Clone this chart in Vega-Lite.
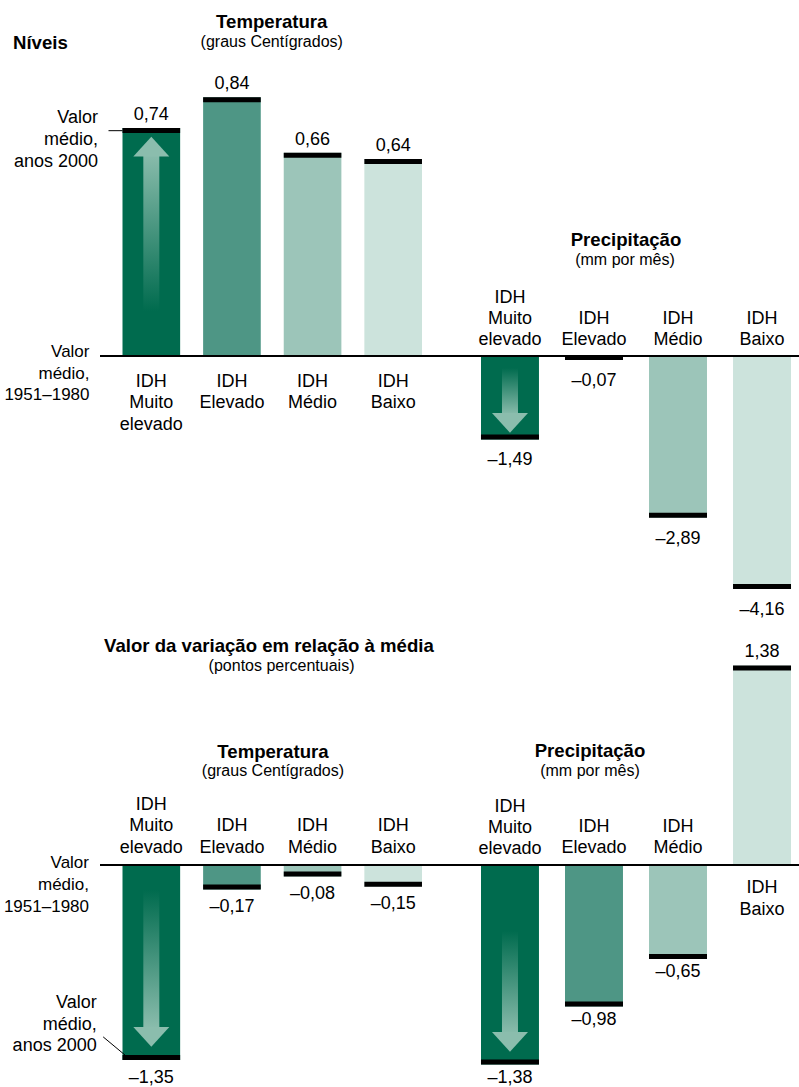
{
  "$schema": "https://vega.github.io/schema/vega-lite/v6.json",
  "width": 799,
  "height": 1087,
  "autosize": {"type": "none"},
  "padding": 0,
  "background": "white",
  "config": {
    "view": {"stroke": null},
    "font": "Liberation Sans",
    "locale": {"number": {"decimal": ",", "thousands": ".", "grouping": [3], "currency": ["", ""], "minus": "–"}}
  },
  "datasets": {
    "niveis_temperatura": [
      {"idh": "IDH Muito elevado", "valor": 0.74},
      {"idh": "IDH Elevado", "valor": 0.84},
      {"idh": "IDH Médio", "valor": 0.66},
      {"idh": "IDH Baixo", "valor": 0.64}
    ],
    "niveis_precipitacao": [
      {"idh": "IDH Muito elevado", "valor": -1.49},
      {"idh": "IDH Elevado", "valor": -0.07},
      {"idh": "IDH Médio", "valor": -2.89},
      {"idh": "IDH Baixo", "valor": -4.16}
    ],
    "variacao_temperatura": [
      {"idh": "IDH Muito elevado", "valor": -1.35},
      {"idh": "IDH Elevado", "valor": -0.17},
      {"idh": "IDH Médio", "valor": -0.08},
      {"idh": "IDH Baixo", "valor": -0.15}
    ],
    "variacao_precipitacao": [
      {"idh": "IDH Muito elevado", "valor": -1.38},
      {"idh": "IDH Elevado", "valor": -0.98},
      {"idh": "IDH Médio", "valor": -0.65},
      {"idh": "IDH Baixo", "valor": 1.38}
    ]
  },
  "resolve": {"scale": {"x": "independent", "y": "independent"}},
  "layer": [
    {
      "data": {"name": "niveis_temperatura"},
      "encoding": {
        "x": {"field": "idh", "type": "nominal", "axis": null, "scale": {"domain": ["IDH Muito elevado", "IDH Elevado", "IDH Médio", "IDH Baixo"], "range": [122.5, 422], "paddingInner": 0.285, "paddingOuter": 0}},
        "y": {"field": "valor", "type": "quantitative", "axis": null, "scale": {"domain": [-2.37338, 1.15584], "nice": false, "zero": false}}
      },
      "layer": [
        {"mark": {"type": "bar"}, "encoding": {"y2": {"datum": 0}, "color": {"field": "idh", "type": "nominal", "legend": null, "scale": {"domain": ["IDH Muito elevado", "IDH Elevado", "IDH Médio", "IDH Baixo"], "range": ["#006b4e", "#4e9685", "#9cc5b9", "#cce3dc"]}}}},
        {"transform": [{"filter": "datum.idh === 'IDH Muito elevado'"}], "mark": {"type": "bar", "width": 16, "yOffset": 24, "y2Offset": -45, "color": {"gradient": "linear", "x1": 0, "y1": 0, "x2": 0, "y2": 1, "stops": [{"offset": 0, "color": "#8bbdad"}, {"offset": 1, "color": "#006b4e"}]}}, "encoding": {"y2": {"datum": 0}}},
        {"transform": [{"filter": "datum.idh === 'IDH Muito elevado'"}], "mark": {"type": "point", "shape": "M0,0L1,1.1L-1,1.1Z", "size": 1296, "filled": true, "color": "#8bbdad", "opacity": 1, "strokeWidth": 0, "yOffset": 8.6}},
        {"mark": {"type": "tick", "color": "black", "thickness": 5, "size": 57.6, "opacity": 1, "yOffset": 2.5}},
        {"mark": {"type": "text", "fontSize": 18, "dy": -8, "align": "center", "baseline": "alphabetic"}, "encoding": {"text": {"field": "valor", "type": "quantitative", "format": ".2f"}}},
        {"mark": {"type": "text", "fontSize": 18, "lineBreak": " ", "lineHeight": 21.7, "dy": 30.7, "align": "center", "baseline": "alphabetic"}, "encoding": {"y": {"datum": 0}, "text": {"field": "idh", "type": "nominal"}}},
        {"transform": [{"filter": "datum.idh === 'IDH Muito elevado'"}], "mark": {"type": "text", "text": ["Valor", "médio,", "anos 2000"], "fontSize": 18, "lineHeight": 21.7, "align": "right", "baseline": "alphabetic", "dx": -24.5, "dy": -4.8}, "encoding": {"x": {"field": "idh", "type": "nominal", "bandPosition": 0}}},
        {"transform": [{"filter": "datum.idh === 'IDH Muito elevado'"}], "mark": {"type": "point", "shape": "M0,0L-1,0", "size": 784, "filled": false, "stroke": "black", "strokeWidth": 1, "opacity": 1, "yOffset": 2.6}, "encoding": {"x": {"field": "idh", "type": "nominal", "bandPosition": 0}}},
        {"transform": [{"filter": "datum.idh === 'IDH Muito elevado'"}], "mark": {"type": "text", "text": ["Valor", "médio,", "1951–1980"], "fontSize": 17, "lineHeight": 21.7, "align": "right", "baseline": "alphabetic", "dx": -33, "dy": 1}, "encoding": {"x": {"field": "idh", "type": "nominal", "bandPosition": 0}, "y": {"datum": 0}}},
        {"transform": [{"filter": "datum.idh === 'IDH Muito elevado'"}], "mark": {"type": "text", "text": "Níveis", "fontSize": 18.6, "fontWeight": "bold", "align": "left", "baseline": "alphabetic", "dx": -138.3}, "encoding": {"x": {"datum": "IDH Muito elevado"}, "y": {"datum": 0.997}}},
        {"transform": [{"filter": "datum.idh === 'IDH Muito elevado'"}], "mark": {"type": "text", "text": "Temperatura", "fontSize": 18.6, "fontWeight": "bold", "align": "center", "baseline": "alphabetic", "dx": 39.8}, "encoding": {"x": {"datum": "IDH Elevado"}, "y": {"datum": 1.064}}},
        {"transform": [{"filter": "datum.idh === 'IDH Muito elevado'"}], "mark": {"type": "text", "text": "(graus Centígrados)", "fontSize": 16, "align": "center", "baseline": "alphabetic", "dx": 39.8}, "encoding": {"x": {"datum": "IDH Elevado"}, "y": {"datum": 1.004}}},
        {"transform": [{"filter": "datum.idh === 'IDH Muito elevado'"}], "mark": {"type": "rule", "color": "black", "strokeWidth": 2, "xOffset": -22.5, "x2Offset": 40}, "encoding": {"x": {"datum": "IDH Muito elevado", "bandPosition": 0}, "x2": {"datum": "IDH Baixo", "bandPosition": 1}, "y": {"datum": 0}}}
      ]
    },
    {
      "data": {"name": "niveis_precipitacao"},
      "encoding": {
        "x": {"field": "idh", "type": "nominal", "axis": null, "scale": {"domain": ["IDH Muito elevado", "IDH Elevado", "IDH Médio", "IDH Baixo"], "range": [481, 791], "paddingInner": 0.31, "paddingOuter": 0}},
        "y": {"field": "valor", "type": "quantitative", "axis": null, "scale": {"domain": [-13.05357, 6.35714], "nice": false, "zero": false}}
      },
      "layer": [
        {"mark": {"type": "bar"}, "encoding": {"y2": {"datum": 0}, "color": {"field": "idh", "type": "nominal", "legend": null, "scale": {"domain": ["IDH Muito elevado", "IDH Elevado", "IDH Médio", "IDH Baixo"], "range": ["#006b4e", "#4e9685", "#9cc5b9", "#cce3dc"]}}}},
        {"transform": [{"filter": "datum.idh === 'IDH Muito elevado'"}], "mark": {"type": "bar", "width": 16, "yOffset": -24, "y2Offset": 12, "color": {"gradient": "linear", "x1": 0, "y1": 0, "x2": 0, "y2": 1, "stops": [{"offset": 0, "color": "#006b4e"}, {"offset": 1, "color": "#8bbdad"}]}}, "encoding": {"y2": {"datum": 0}}},
        {"transform": [{"filter": "datum.idh === 'IDH Muito elevado'"}], "mark": {"type": "point", "shape": "M0,0L1,-1.1L-1,-1.1Z", "size": 1296, "filled": true, "color": "#8bbdad", "opacity": 1, "strokeWidth": 0, "yOffset": -6.7}},
        {"mark": {"type": "tick", "color": "black", "thickness": 5, "size": 58, "opacity": 1, "yOffset": -2.5}},
        {"mark": {"type": "text", "fontSize": 18, "dy": 26, "align": "center", "baseline": "alphabetic"}, "encoding": {"text": {"field": "valor", "type": "quantitative", "format": ".2f"}}},
        {"transform": [{"filter": "datum.idh === 'IDH Muito elevado'"}], "mark": {"type": "text", "fontSize": 18, "lineBreak": " ", "lineHeight": 21.3, "dy": -53.3, "align": "center", "baseline": "alphabetic"}, "encoding": {"y": {"datum": 0}, "text": {"field": "idh", "type": "nominal"}}},
        {"transform": [{"filter": "datum.idh !== 'IDH Muito elevado'"}], "mark": {"type": "text", "fontSize": 18, "lineBreak": " ", "lineHeight": 21.3, "dy": -32, "align": "center", "baseline": "alphabetic"}, "encoding": {"y": {"datum": 0}, "text": {"field": "idh", "type": "nominal"}}},
        {"transform": [{"filter": "datum.idh === 'IDH Muito elevado'"}], "mark": {"type": "text", "text": "Precipitação", "fontSize": 18.6, "fontWeight": "bold", "align": "center", "baseline": "alphabetic", "dx": 32}, "encoding": {"x": {"datum": "IDH Elevado"}, "y": {"datum": 1.964}}},
        {"transform": [{"filter": "datum.idh === 'IDH Muito elevado'"}], "mark": {"type": "text", "text": "(mm por mês)", "fontSize": 16, "align": "center", "baseline": "alphabetic", "dx": 31}, "encoding": {"x": {"datum": "IDH Elevado"}, "y": {"datum": 1.625}}},
        {"transform": [{"filter": "datum.idh === 'IDH Muito elevado'"}], "mark": {"type": "rule", "color": "black", "strokeWidth": 2, "xOffset": -40, "x2Offset": 8}, "encoding": {"x": {"datum": "IDH Muito elevado", "bandPosition": 0}, "x2": {"datum": "IDH Baixo", "bandPosition": 1}, "y": {"datum": 0}}}
      ]
    },
    {
      "data": {"name": "variacao_temperatura"},
      "encoding": {
        "x": {"field": "idh", "type": "nominal", "axis": null, "scale": {"domain": ["IDH Muito elevado", "IDH Elevado", "IDH Médio", "IDH Baixo"], "range": [122.5, 422], "paddingInner": 0.285, "paddingOuter": 0}},
        "y": {"field": "valor", "type": "quantitative", "axis": null, "scale": {"domain": [-1.53633, 5.98616], "nice": false, "zero": false}}
      },
      "layer": [
        {"mark": {"type": "bar"}, "encoding": {"y2": {"datum": 0}, "color": {"field": "idh", "type": "nominal", "legend": null, "scale": {"domain": ["IDH Muito elevado", "IDH Elevado", "IDH Médio", "IDH Baixo"], "range": ["#006b4e", "#4e9685", "#9cc5b9", "#cce3dc"]}}}},
        {"transform": [{"filter": "datum.idh === 'IDH Muito elevado'"}], "mark": {"type": "bar", "width": 16, "yOffset": -31, "y2Offset": 25, "color": {"gradient": "linear", "x1": 0, "y1": 0, "x2": 0, "y2": 1, "stops": [{"offset": 0, "color": "#006b4e"}, {"offset": 1, "color": "#8bbdad"}]}}, "encoding": {"y2": {"datum": 0}}},
        {"transform": [{"filter": "datum.idh === 'IDH Muito elevado'"}], "mark": {"type": "point", "shape": "M0,0L1,-1.1L-1,-1.1Z", "size": 1296, "filled": true, "color": "#8bbdad", "opacity": 1, "strokeWidth": 0, "yOffset": -13.4}},
        {"mark": {"type": "tick", "color": "black", "thickness": 5, "size": 57.6, "opacity": 1, "yOffset": -2.5}},
        {"mark": {"type": "text", "fontSize": 18, "dy": 22.5, "align": "center", "baseline": "alphabetic"}, "encoding": {"text": {"field": "valor", "type": "quantitative", "format": ".2f"}}},
        {"transform": [{"filter": "datum.idh === 'IDH Muito elevado'"}], "mark": {"type": "text", "fontSize": 18, "lineBreak": " ", "lineHeight": 21.3, "dy": -55, "align": "center", "baseline": "alphabetic"}, "encoding": {"y": {"datum": 0}, "text": {"field": "idh", "type": "nominal"}}},
        {"transform": [{"filter": "datum.idh !== 'IDH Muito elevado'"}], "mark": {"type": "text", "fontSize": 18, "lineBreak": " ", "lineHeight": 21.3, "dy": -33.7, "align": "center", "baseline": "alphabetic"}, "encoding": {"y": {"datum": 0}, "text": {"field": "idh", "type": "nominal"}}},
        {"transform": [{"filter": "datum.idh === 'IDH Muito elevado'"}], "mark": {"type": "text", "text": ["Valor", "médio,", "anos 2000"], "fontSize": 18, "lineHeight": 21.7, "align": "right", "baseline": "alphabetic", "dx": -25.8, "dy": -52.1}, "encoding": {"x": {"field": "idh", "type": "nominal", "bandPosition": 0}}},
        {"transform": [{"filter": "datum.idh === 'IDH Muito elevado'"}], "mark": {"type": "point", "shape": "M0,0L-1.2,-1", "size": 1325, "filled": false, "stroke": "black", "strokeWidth": 1, "opacity": 1, "xOffset": 2.5, "yOffset": -5}, "encoding": {"x": {"field": "idh", "type": "nominal", "bandPosition": 0}}},
        {"transform": [{"filter": "datum.idh === 'IDH Muito elevado'"}], "mark": {"type": "text", "text": ["Valor", "médio,", "1951–1980"], "fontSize": 17, "lineHeight": 21.7, "align": "right", "baseline": "alphabetic", "dx": -33.5, "dy": 3.3}, "encoding": {"x": {"field": "idh", "type": "nominal", "bandPosition": 0}, "y": {"datum": 0}}},
        {"transform": [{"filter": "datum.idh === 'IDH Muito elevado'"}], "mark": {"type": "text", "text": "Valor da variação em relação à média", "fontSize": 18.6, "fontWeight": "bold", "align": "center", "baseline": "alphabetic", "dx": 37}, "encoding": {"x": {"datum": "IDH Elevado"}, "y": {"datum": 1.476}}},
        {"transform": [{"filter": "datum.idh === 'IDH Muito elevado'"}], "mark": {"type": "text", "text": "(pontos percentuais)", "fontSize": 16, "align": "center", "baseline": "alphabetic", "dx": 49.6}, "encoding": {"x": {"datum": "IDH Elevado"}, "y": {"datum": 1.343}}},
        {"transform": [{"filter": "datum.idh === 'IDH Muito elevado'"}], "mark": {"type": "text", "text": "Temperatura", "fontSize": 18.6, "fontWeight": "bold", "align": "center", "baseline": "alphabetic", "dx": 41}, "encoding": {"x": {"datum": "IDH Elevado"}, "y": {"datum": 0.738}}},
        {"transform": [{"filter": "datum.idh === 'IDH Muito elevado'"}], "mark": {"type": "text", "text": "(graus Centígrados)", "fontSize": 16, "align": "center", "baseline": "alphabetic", "dx": 41}, "encoding": {"x": {"datum": "IDH Elevado"}, "y": {"datum": 0.618}}},
        {"transform": [{"filter": "datum.idh === 'IDH Muito elevado'"}], "mark": {"type": "rule", "color": "black", "strokeWidth": 2, "xOffset": -22.5, "x2Offset": 40}, "encoding": {"x": {"datum": "IDH Muito elevado", "bandPosition": 0}, "x2": {"datum": "IDH Baixo", "bandPosition": 1}, "y": {"datum": 0}}}
      ]
    },
    {
      "data": {"name": "variacao_precipitacao"},
      "encoding": {
        "x": {"field": "idh", "type": "nominal", "axis": null, "scale": {"domain": ["IDH Muito elevado", "IDH Elevado", "IDH Médio", "IDH Baixo"], "range": [481, 791], "paddingInner": 0.31, "paddingOuter": 0}},
        "y": {"field": "valor", "type": "quantitative", "axis": null, "scale": {"domain": [-1.53633, 5.98616], "nice": false, "zero": false}}
      },
      "layer": [
        {"mark": {"type": "bar"}, "encoding": {"y2": {"datum": 0}, "color": {"field": "idh", "type": "nominal", "legend": null, "scale": {"domain": ["IDH Muito elevado", "IDH Elevado", "IDH Médio", "IDH Baixo"], "range": ["#006b4e", "#4e9685", "#9cc5b9", "#cce3dc"]}}}},
        {"transform": [{"filter": "datum.idh === 'IDH Muito elevado'"}], "mark": {"type": "bar", "width": 16, "yOffset": -30, "y2Offset": 66, "color": {"gradient": "linear", "x1": 0, "y1": 0, "x2": 0, "y2": 1, "stops": [{"offset": 0, "color": "#006b4e"}, {"offset": 1, "color": "#8bbdad"}]}}, "encoding": {"y2": {"datum": 0}}},
        {"transform": [{"filter": "datum.idh === 'IDH Muito elevado'"}], "mark": {"type": "point", "shape": "M0,0L1,-1.1L-1,-1.1Z", "size": 1296, "filled": true, "color": "#8bbdad", "opacity": 1, "strokeWidth": 0, "yOffset": -12.7}},
        {"transform": [{"filter": "datum.valor < 0"}], "mark": {"type": "tick", "color": "black", "thickness": 5, "size": 58, "opacity": 1, "yOffset": -2.5}},
        {"transform": [{"filter": "datum.valor > 0"}], "mark": {"type": "tick", "color": "black", "thickness": 5, "size": 58, "opacity": 1, "yOffset": 2.5}},
        {"transform": [{"filter": "datum.valor < 0"}], "mark": {"type": "text", "fontSize": 18, "dy": 18.5, "align": "center", "baseline": "alphabetic"}, "encoding": {"text": {"field": "valor", "type": "quantitative", "format": ".2f"}}},
        {"transform": [{"filter": "datum.valor > 0"}], "mark": {"type": "text", "fontSize": 18, "dy": -9, "align": "center", "baseline": "alphabetic"}, "encoding": {"text": {"field": "valor", "type": "quantitative", "format": ".2f"}}},
        {"transform": [{"filter": "datum.valor < 0 && datum.idh === 'IDH Muito elevado'"}], "mark": {"type": "text", "fontSize": 18, "lineBreak": " ", "lineHeight": 21.3, "dy": -53.5, "align": "center", "baseline": "alphabetic"}, "encoding": {"y": {"datum": 0}, "text": {"field": "idh", "type": "nominal"}}},
        {"transform": [{"filter": "datum.valor < 0 && datum.idh !== 'IDH Muito elevado'"}], "mark": {"type": "text", "fontSize": 18, "lineBreak": " ", "lineHeight": 21.3, "dy": -33.3, "align": "center", "baseline": "alphabetic"}, "encoding": {"y": {"datum": 0}, "text": {"field": "idh", "type": "nominal"}}},
        {"transform": [{"filter": "datum.valor > 0"}], "mark": {"type": "text", "fontSize": 18, "lineBreak": " ", "lineHeight": 21.5, "dy": 28.3, "align": "center", "baseline": "alphabetic"}, "encoding": {"y": {"datum": 0}, "text": {"field": "idh", "type": "nominal"}}},
        {"transform": [{"filter": "datum.idh === 'IDH Muito elevado'"}], "mark": {"type": "text", "text": "Precipitação", "fontSize": 18.6, "fontWeight": "bold", "align": "center", "baseline": "alphabetic", "dx": -4}, "encoding": {"x": {"datum": "IDH Elevado"}, "y": {"datum": 0.745}}},
        {"transform": [{"filter": "datum.idh === 'IDH Muito elevado'"}], "mark": {"type": "text", "text": "(mm por mês)", "fontSize": 16, "align": "center", "baseline": "alphabetic", "dx": -4}, "encoding": {"x": {"datum": "IDH Elevado"}, "y": {"datum": 0.616}}},
        {"transform": [{"filter": "datum.idh === 'IDH Muito elevado'"}], "mark": {"type": "rule", "color": "black", "strokeWidth": 2, "xOffset": -40, "x2Offset": 8}, "encoding": {"x": {"datum": "IDH Muito elevado", "bandPosition": 0}, "x2": {"datum": "IDH Baixo", "bandPosition": 1}, "y": {"datum": 0}}}
      ]
    }
  ]
}
